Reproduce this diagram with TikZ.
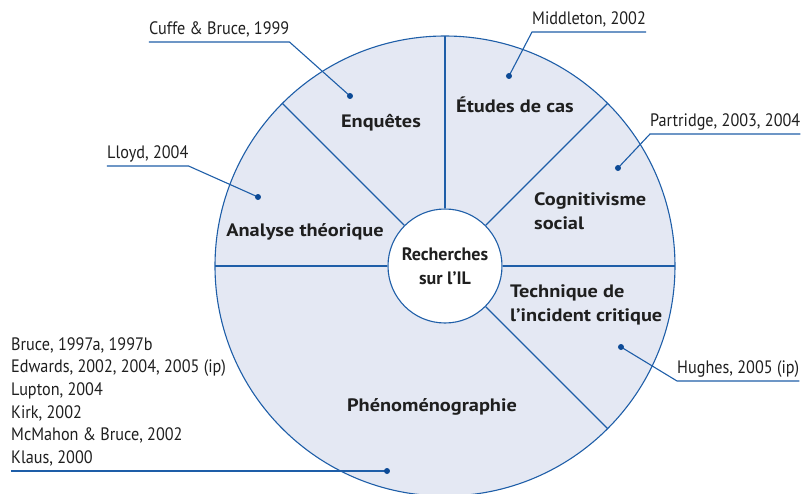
\documentclass[tikz,border=0pt]{standalone}
\usepackage{fontspec}
\newfontfamily\reffont[FakeStretch=0.9]{PT Sans}
\newfontfamily\secfont[FakeStretch=1.13]{PT Sans}
\newfontfamily\hubfont{PT Sans}
\definecolor{ringblue}{RGB}{30,94,168}
\definecolor{ringfill}{RGB}{228,232,243}
\definecolor{dotblue}{RGB}{12,74,150}

\begin{document}
\begin{tikzpicture}[x=1pt, y=1pt,
		divider/.style={draw=ringblue, line width=1.1pt},
		callout/.style={draw=ringblue, line width=1.1pt},
		seclabel/.style={font=\secfont\bfseries\fontsize{18pt}{23.5pt}\selectfont, text=black!88, inner sep=0, align=left},
		reflabel/.style={font=\reffont\fontsize{18pt}{22.6pt}\selectfont, text=black!88, inner sep=0, text depth=7.5pt, align=left, anchor=south west}
	]
		\useasboundingbox (-445,-227) rectangle (356,266);
		% ring
		\filldraw[fill=ringfill, draw=ringblue, line width=1.1pt] (0,0) circle (230);
		\node[circle, draw=ringblue, fill=white, line width=1.1pt, minimum size=114pt, inner sep=0, align=center, font=\hubfont\bfseries\fontsize{18pt}{24pt}\selectfont, text=black!88] (hub) at (0,0) {Recherches\\sur l’IL};
		\foreach \a in {0,45,90,135,180,315}
			{
				\draw[divider] (hub.\a) -- (\a:230);
			}
		% sectors
		\node[seclabel, anchor=base] (enquetes) at (-64,138) {Enquêtes};
		\node[seclabel, anchor=base] (etudes) at (70,153) {Études de cas};
		\node[seclabel, anchor=base west] (cognitivisme) at (89,37) {Cognitivisme\\social};
		\node[seclabel, anchor=base] (analyse) at (-140,30) {Analyse théorique};
		\node[seclabel, anchor=base west] (technique) at (65,-55) {Technique de\\l’incident critique};
		\node[seclabel, anchor=base] (pheno) at (-13,-145) {Phénoménographie};
		% references
		\foreach \nm/\dot/\at/\near/\far/\txt in {
				cuffe/{-95,170}/{-296,224}/south east/south west/{Cuffe \& Bruce, 1999},
				lloyd/{-187,69}/{-338,100}/south east/south west/{Lloyd, 2004},
				middleton/{64,190}/{87,234}/south west/south east/{Middleton, 2002},
				partridge/{173,98}/{205,132}/south west/south east/{Partridge, 2003, 2004},
				hughes/{176,-81}/{232,-115}/south west/south east/{Hughes, 2005 (ip)}}
			{
				\coordinate (\nm-dot) at (\dot);
				\node[reflabel] (\nm) at (\at) {\txt};
				\draw[callout] (\nm-dot) -- (\nm.\near) -- (\nm.\far);
				\fill[dotblue] (\nm-dot) circle (3);
			}
		\coordinate (phenolist-dot) at (-58,-205);
		\node[reflabel] (phenolist) at (-434,-205) {Bruce, 1997a, 1997b\\Edwards, 2002, 2004, 2005 (ip)\\Lupton, 2004\\Kirk, 2002\\McMahon \& Bruce, 2002\\Klaus, 2000};
		\draw[callout] (phenolist.south west) -- (phenolist-dot);
		\fill[dotblue] (phenolist-dot) circle (3);
\end{tikzpicture}
\end{document}
